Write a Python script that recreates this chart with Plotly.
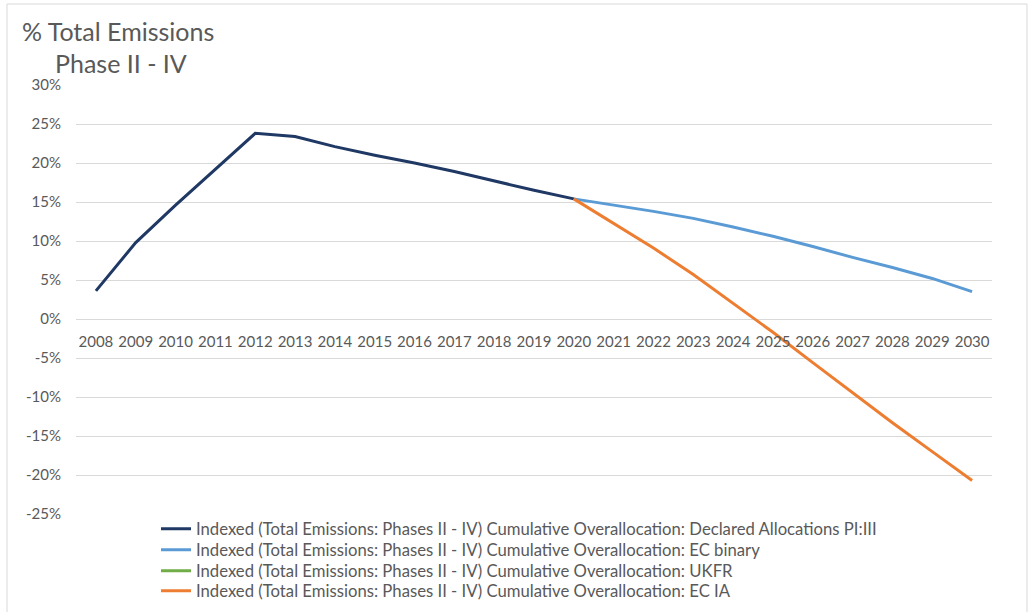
import plotly.graph_objects as go

# Categories and series (percent of total emissions, Phases II - IV)
years = [str(y) for y in range(2008, 2031)]

declared = [3.6, 9.8, 14.6, 19.2, 23.8, 23.4, 22.1, 21.0, 20.0, 18.9, 17.7, 16.5, 15.4]
declared_years = years[:13]

proj_years = years[12:]
ec_binary = [15.4, 14.6, 13.8, 12.9, 11.8, 10.6, 9.3, 7.9, 6.6, 5.2, 3.5]
ukfr = [None] * len(proj_years)
ec_ia = [15.4, 12.3, 9.1, 5.7, 2.0, -1.7, -5.6, -9.5, -13.3, -17.0, -20.7]

y_ticks = [30, 25, 20, 15, 10, 5, 0, -5, -10, -15, -20, -25]
y_tick_text = [f"{v}%" for v in y_ticks]

names = [
    "Indexed (Total Emissions: Phases II - IV) Cumulative Overallocation: Declared Allocations PI:III",
    "Indexed (Total Emissions: Phases II - IV) Cumulative Overallocation: EC binary",
    "Indexed (Total Emissions: Phases II - IV) Cumulative Overallocation: UKFR",
    "Indexed (Total Emissions: Phases II - IV) Cumulative Overallocation: EC IA",
]
colors = ["#1f3864", "#5b9bd5", "#70ad47", "#ed7d31"]

FONT = "Lato"
GREY = "#595959"

W, H = 1029, 612
L, R, T, B = 76, 37, 85, 98
pw, ph = W - L - R, H - T - B


def px_x(x):
    return (x - L) / pw


def px_y(y):
    return (H - B - y) / ph


fig = go.Figure()
series = [
    (declared_years, declared),
    (proj_years, ec_binary),
    (proj_years, ukfr),
    (proj_years, ec_ia),
]
# one legend box per series so the rows can sit tightly stacked
legend_ids = ["legend", "legend2", "legend3", "legend4"]
legend_rows = [529, 550, 571, 591]
for (xs, ys), name, color, lid in zip(series, names, colors, legend_ids):
    fig.add_trace(go.Scatter(
        x=xs, y=ys, name=name, mode="lines",
        line=dict(color=color, width=3),
        hoverinfo="x+y+name", legend=lid,
    ))

legend_layout = {}
for lid, row in zip(legend_ids, legend_rows):
    legend_layout[lid] = dict(
        x=px_x(156), y=px_y(row), xanchor="left", yanchor="middle",
        font=dict(family=FONT, size=16.7, color=GREY),
        bgcolor="rgba(0,0,0,0)", tracegroupgap=0,
    )

fig.update_layout(
    width=W, height=H,
    margin=dict(l=L, r=R, t=T, b=B, autoexpand=False),
    paper_bgcolor="white", plot_bgcolor="white",
    font=dict(family=FONT, color=GREY, size=15),
    showlegend=True,
    xaxis=dict(
        type="category", categoryorder="array", categoryarray=years,
        range=[-0.5, len(years) - 0.5],
        anchor="free", position=25 / 55,
        showgrid=False, showline=False, zeroline=False, ticks="",
        tickfont=dict(family=FONT, size=15, color=GREY),
        ticklabelstandoff=12,
    ),
    yaxis=dict(
        range=[-25, 30], tickvals=y_ticks, ticktext=y_tick_text,
        showgrid=True, gridcolor="#d9d9d9", gridwidth=1,
        zeroline=False, showline=False, ticks="",
        tickfont=dict(family=FONT, size=15, color=GREY),
        ticklabelstandoff=14,
    ),
    annotations=[
        dict(text="% Total Emissions", xref="paper", yref="paper",
             x=px_x(20), y=px_y(31), xanchor="left", yanchor="middle",
             showarrow=False, font=dict(family=FONT, size=25, color=GREY)),
        dict(text="Phase II - IV", xref="paper", yref="paper",
             x=px_x(53), y=px_y(63), xanchor="left", yanchor="middle",
             showarrow=False, font=dict(family=FONT, size=25, color=GREY)),
    ],
    shapes=[
        dict(type="rect", xref="paper", yref="paper",
             x0=px_x(7), x1=px_x(1027), y0=px_y(640), y1=px_y(4),
             line=dict(color="#d9d9d9", width=1), fillcolor="rgba(0,0,0,0)",
             layer="below"),
    ],
    **legend_layout,
)

fig.write_html("out.html")
